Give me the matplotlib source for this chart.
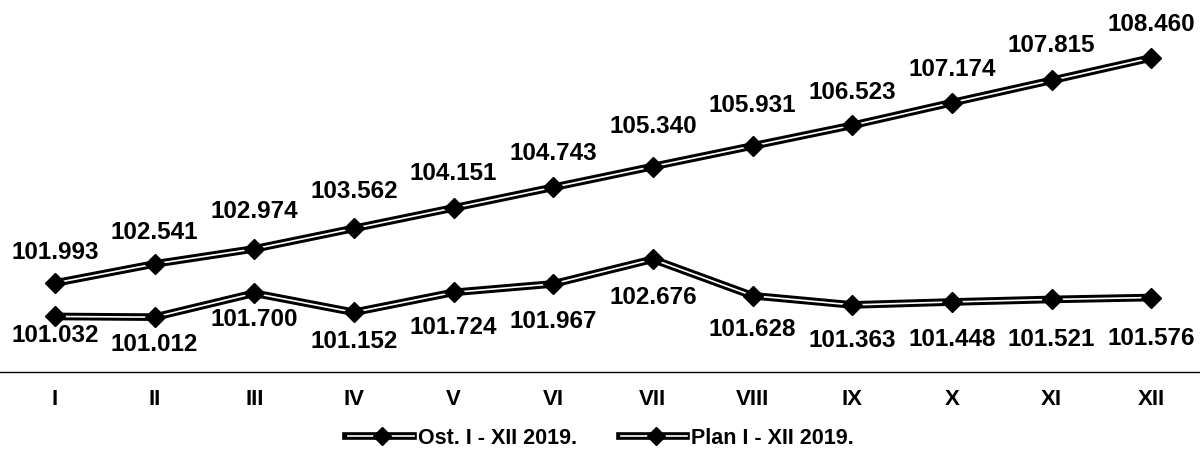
import matplotlib.pyplot as plt
from matplotlib.lines import Line2D
from matplotlib.legend_handler import HandlerTuple

plt.rcParams['font.family'] = ['Liberation Sans', 'DejaVu Sans']

months = ["I", "II", "III", "IV", "V", "VI", "VII", "VIII", "IX", "X", "XI", "XII"]
ost = [101.032, 101.012, 101.700, 101.152, 101.724, 101.967,
       102.676, 101.628, 101.363, 101.448, 101.521, 101.576]
plan = [101.993, 102.541, 102.974, 103.562, 104.151, 104.743,
        105.340, 105.931, 106.523, 107.174, 107.815, 108.460]
labels = ["Ost. I - XII 2019.", "Plan I - XII 2019."]

# label offsets in pixels (layout only)
plan_off = [31, 31, 37, 37, 34, 34, 40, 40, 33, 33, 35, 33]
ost_off = [19, 27, 26, 29, 35, 38, 38, 34, 36, 38, 40, 41]

fig = plt.figure(figsize=(12, 4.59), dpi=100)
ax = fig.add_axes([0.0, 1 - 372 / 459, 1.0, 372 / 459])
x = list(range(len(months)))

for vals in (ost, plan):
    ax.plot(x, vals, color="black", lw=5.5, zorder=2)
    ax.plot(x, vals, color="white", lw=1.2, zorder=3)
    ax.plot(x, vals, ls="none", marker="D", ms=10, color="black", zorder=4)

for i, v in enumerate(plan):
    ax.annotate(f"{v:.3f}", (i, v), textcoords="offset pixels",
                xytext=(0, plan_off[i]), ha="center", va="center",
                fontsize=17.5, fontweight="bold")
for i, v in enumerate(ost):
    ax.annotate(f"{v:.3f}", (i, v), textcoords="offset pixels",
                xytext=(0, -ost_off[i]), ha="center", va="center",
                fontsize=17.5, fontweight="bold")

ax.set_xlim(-0.551, 11.49)
ax.set_ylim(99.436, 110.125)
ax.set_yticks([])
ax.set_xticks(x)
ax.set_xticklabels(months, fontsize=16, fontweight="bold")
ax.tick_params(axis="x", length=0, pad=12)
for s in ["top", "left", "right"]:
    ax.spines[s].set_visible(False)
ax.spines["bottom"].set_linewidth(1.0)

leg_handles = []
for lab in labels:
    outer = Line2D([], [], color="black", lw=5.5)
    inner = Line2D([], [], color="white", lw=1.2)
    mk = Line2D([], [], ls="none", marker="D", ms=9, color="black")
    leg_handles.append((outer, inner, mk))
fig.legend(leg_handles, labels, handler_map={tuple: HandlerTuple(ndivide=None, pad=-3)},
           loc="center", bbox_to_anchor=(0.5, 21 / 459), ncol=2, frameon=False,
           prop={"size": 15.5, "weight": "bold"}, handlelength=3.2, handletextpad=0.1,
           columnspacing=2.0)

fig.savefig("out.png", dpi=100)
